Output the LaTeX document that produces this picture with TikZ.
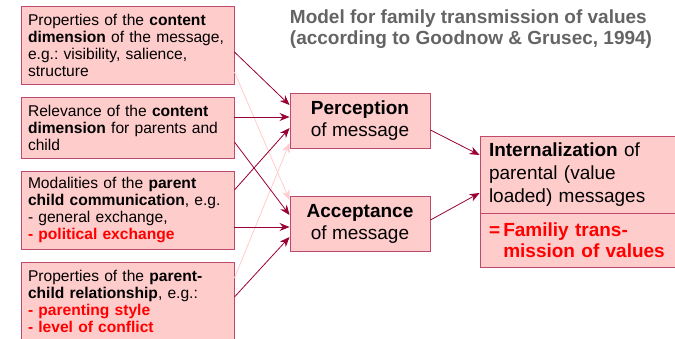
\documentclass[tikz,border=0pt]{standalone}
\usepackage{fontspec}
\setmainfont{Liberation Sans}
\usepackage{xcolor}
\usetikzlibrary{arrows.meta}
\definecolor{boxfill}{RGB}{255,204,204}
\definecolor{boxline}{RGB}{190,75,110}
\definecolor{arrowdark}{RGB}{153,0,51}
\definecolor{arrowlight}{RGB}{255,205,205}
\definecolor{titlegray}{RGB}{100,100,100}
\definecolor{hired}{RGB}{255,0,0}
\newcommand\factorfont{\fontsize{15.6}{17}\selectfont\frenchspacing\hyphenpenalty 10000\relax}

\begin{document}
\begin{tikzpicture}[x=1pt, y=-1pt,
  factor/.style={rectangle, draw=boxline, fill=boxfill, line width=0.9pt, text width=199pt, inner xsep=7pt, align=left, font=\factorfont},
  stage/.style={rectangle, draw=boxline, fill=boxfill, line width=0.9pt, minimum width=140pt, minimum height=55pt, align=center, font=\fontsize{19}{22}\selectfont},
  result/.style={rectangle, draw=boxline, fill=boxfill, line width=0.9pt, text width=192pt, inner xsep=9pt, align=left},
  arrow/.style={->, >={Stealth[length=10pt,width=8pt]}, line width=0.8pt, draw=arrowdark},
  faint/.style={arrow, draw=arrowlight}
]
\useasboundingbox (0,0) rectangle (675,339);

\node[font=\fontsize{19}{21}\selectfont\bfseries, text=titlegray, align=left] (title) at (471,29) {Model for family transmission of values\\(according to Goodnow \& Grusec, 1994)};

\node[factor, minimum height=78pt] (content) at (127.5,45) {Properties of the \textbf{content}\\\textbf{dimension} of the message,\\e.g.: visibility, salience,\\structure};
\node[factor, minimum height=61pt] (relevance) at (127.5,127.5) {Relevance of the \textbf{content}\\\textbf{dimension} for parents and\\child};
\node[factor, minimum height=78pt] (modality) at (127.5,210) {Modalities of the \textbf{parent}\\\textbf{child communication}, e.g.\\- general exchange,\\\textcolor{hired}{\textbf{- political exchange}}};
\node[factor, minimum height=79pt] (relation) at (127.5,301.5) {Properties of the \textbf{parent-}\\\textbf{child relationship}, e.g.:\\\textcolor{hired}{\textbf{- parenting style}}\\\textcolor{hired}{\textbf{- level of conflict}}};

\node[stage] (perception) at (360,120.5) {\textbf{Perception}\\of message};
\node[stage] (acceptance) at (360,223.5) {\textbf{Acceptance}\\of message};

\node[result, minimum height=77pt, font=\fontsize{19}{23}\selectfont] (internal) at (585,174.5) {\textbf{Internalization} of\\parental (value\\loaded) messages};
\node[result, minimum height=54pt, font=\fontsize{19}{21}\selectfont\bfseries, text=hired] (family) at (585,240) {=\,Familiy trans-\\\phantom{=\,}mission of values};

\draw[faint] ([yshift=-27pt]content.east) -- ([yshift=23.5pt]acceptance.west);
\draw[faint] ([yshift=23.5pt]relation.east) -- ([yshift=-22.5pt]perception.west);

\draw[arrow] ([yshift=-7pt]content.east) -- ([yshift=15.5pt]perception.west);
\draw[arrow] ([yshift=10.5pt]relevance.east) -- ([yshift=3.5pt]perception.west);
\draw[arrow] ([yshift=-14.5pt]relevance.east) -- ([yshift=8.5pt]acceptance.west);
\draw[arrow] ([yshift=20pt]modality.east) -- ([yshift=-7.5pt]perception.west);
\draw[arrow] ([yshift=-17pt]modality.east) -- ([yshift=-3.5pt]acceptance.west);
\draw[arrow] ([yshift=4.5pt]relation.east) -- ([yshift=-13.5pt]acceptance.west);

\draw[arrow] ([yshift=-9.5pt]perception.east) -- ([yshift=19.5pt]internal.west);
\draw[arrow] ([yshift=3.5pt]acceptance.east) -- ([yshift=-18.5pt]internal.west);

\end{tikzpicture}
\end{document}
